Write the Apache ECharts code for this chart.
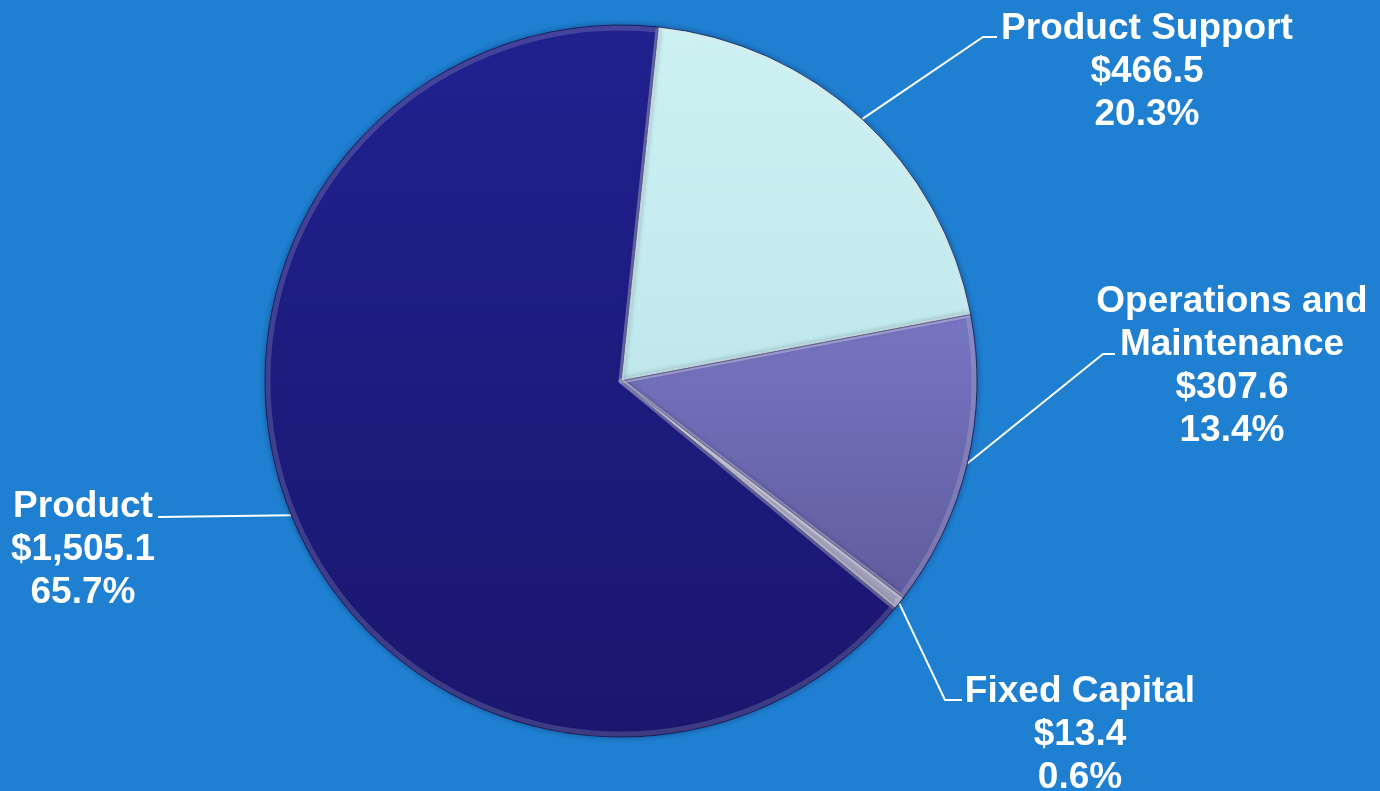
<!DOCTYPE html>
<html>
<head>
<meta charset="utf-8">
<title>Cost Breakdown</title>
<script src="https://cdn.jsdelivr.net/npm/echarts@6/dist/echarts.min.js"></script>
<style>
  html, body { margin: 0; padding: 0; background: #1f80d2; }
  #chart { width: 1380px; height: 791px; }
</style>
</head>
<body>
<div id="chart"></div>
<script>
// Cost categories (in millions) and their values, clockwise from the top
const categories = ['Product Support', 'Operations and\nMaintenance', 'Fixed Capital', 'Product'];
const values = [466.5, 307.6, 13.4, 1505.1];

// Slice fills: [top colour, bottom colour]
const sliceColors = [
  ['#cdf1f3', '#c0e8ec'],
  ['#7676c2', '#605c9e'],
  ['#c3c2d6', '#9f9db8'],
  ['#21218f', '#1a176e']
];

// Where each callout block sits: block centre x, block top y, elbow and end of the leader line
const labelPlacement = [
  { x: 1147, y: 7,   bend: [983, 37],  end: [997, 37] },
  { x: 1232, y: 280, bend: [1103, 354], end: [1115, 354] },
  { x: 1080, y: 670, bend: [945, 700], end: [962, 700] },
  { x: 83,   y: 485, bend: [158, 517], end: [158, 517] }
];

const total = values.reduce((a, b) => a + b, 0);
const fmtMoney = v => '$' + v.toLocaleString('en-US', { minimumFractionDigits: 1, maximumFractionDigits: 1 });
const fmtPct = v => (v / total * 100).toFixed(1) + '%';

const seriesData = categories.map((name, i) => ({
  name: name,
  value: values[i],
  itemStyle: {
    color: {
      type: 'linear', x: 0, y: 0, x2: 0, y2: 1,
      colorStops: [
        { offset: 0, color: sliceColors[i][0] },
        { offset: 1, color: sliceColors[i][1] }
      ]
    }
  }
}));

const chart = echarts.init(document.getElementById('chart'), null, { renderer: 'canvas' });

const center = [621, 381];
const radius = 356;

chart.setOption({
  backgroundColor: '#1f80d2',
  animation: false,
  series: [
    {
      type: 'pie',
      center: center,
      radius: radius,
      startAngle: 84,
      clockwise: true,
      data: seriesData,
      itemStyle: {
        borderColor: 'rgba(20,20,70,0.75)',
        borderWidth: 1,
        shadowBlur: 6,
        shadowColor: 'rgba(0,0,40,0.35)'
      },
      label: {
        show: true,
        color: '#ffffff',
        fontFamily: '"Liberation Sans", Arial, sans-serif',
        fontWeight: 'bold',
        fontSize: 37,
        lineHeight: 43,
        align: 'center',
        formatter: p => p.name + '\n' + fmtMoney(p.value) + '\n' + fmtPct(p.value)
      },
      labelLine: {
        show: true,
        length: 20,
        length2: 10,
        lineStyle: { color: '#ffffff', width: 2 }
      },
      labelLayout: function (params) {
        const pl = labelPlacement[params.dataIndex];
        const start = params.labelLinePoints ? params.labelLinePoints[0] : pl.bend;
        return {
          x: pl.x,
          y: pl.y,
          align: 'center',
          verticalAlign: 'top',
          labelLinePoints: [start, pl.bend, pl.end]
        };
      },
      emphasis: { disabled: true }
    },
    {
      // Inner bevel highlight along every slice edge
      type: 'pie',
      center: center,
      radius: radius - 3,
      startAngle: 84,
      clockwise: true,
      silent: true,
      data: values.map((v, i) => ({ name: categories[i], value: v })),
      itemStyle: {
        color: 'rgba(0,0,0,0)',
        borderColor: 'rgba(255,255,255,0.16)',
        borderWidth: 5
      },
      label: { show: false },
      labelLine: { show: false },
      emphasis: { disabled: true }
    }
  ]
});
</script>
</body>
</html>
